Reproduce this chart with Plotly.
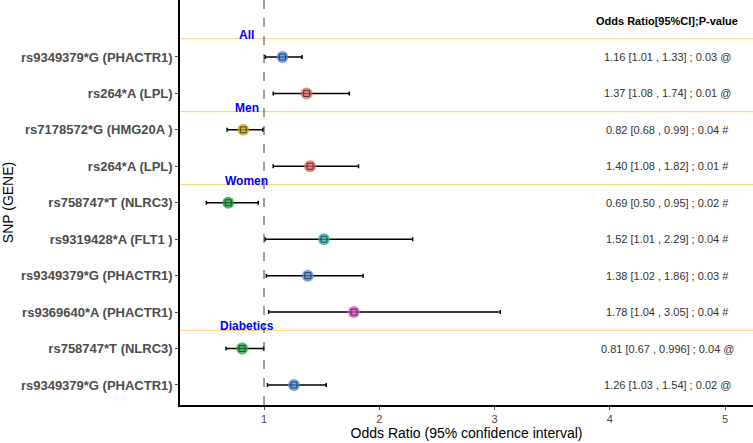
import plotly.graph_objects as go

snps = ["rs9349379*G (PHACTR1)", "rs264*A (LPL)", "rs7178572*G (HMG20A )", "rs264*A (LPL)",
        "rs758747*T (NLRC3)", "rs9319428*A (FLT1 )", "rs9349379*G (PHACTR1)", "rs9369640*A (PHACTR1)",
        "rs758747*T (NLRC3)", "rs9349379*G (PHACTR1)"]
odds = [1.16, 1.37, 0.82, 1.40, 0.69, 1.52, 1.38, 1.78, 0.81, 1.26]
lower = [1.01, 1.08, 0.68, 1.08, 0.50, 1.01, 1.02, 1.04, 0.67, 1.03]
upper = [1.33, 1.74, 0.99, 1.82, 0.95, 2.29, 1.86, 3.05, 0.996, 1.54]
labels = ["1.16 [1.01 , 1.33] ; 0.03 @", "1.37 [1.08 , 1.74] ; 0.01 @", "0.82 [0.68 , 0.99] ; 0.04 #",
          "1.40 [1.08 , 1.82] ; 0.01 #", "0.69 [0.50 , 0.95] ; 0.02 #", "1.52 [1.01 , 2.29] ; 0.04 #",
          "1.38 [1.02 , 1.86] ; 0.03 #", "1.78 [1.04 , 3.05] ; 0.04 #", "0.81 [0.67 , 0.996] ; 0.04 @",
          "1.26 [1.03 , 1.54] ; 0.02 @"]
colors = ["#4a86e8", "#e8605a", "#c9a800", "#e8605a", "#17a03a", "#1fb3b0", "#4a86e8", "#e04ccc",
          "#17a03a", "#4a86e8"]
groups = ["All", "Men", "Women", "Diabetics"]
group_starts = [1, 3, 5, 9]

rows = list(range(1, len(snps) + 1))

fig = go.Figure()
# group separator lines
for g, s in zip(groups, group_starts):
    fig.add_shape(type="line", xref="paper", x0=0, x1=1, y0=s - 0.5, y1=s - 0.5,
                  line=dict(color="#ffd58a", width=1.2), layer="below")
    fig.add_annotation(x=0.85, y=s - 0.5, text="<b>" + g + "</b>", showarrow=False,
                       font=dict(family="Liberation Sans, Arial", size=12, color="#0000ff"),
                       yanchor="bottom", yshift=-5)

fig.add_shape(type="line", x0=1, x1=1, yref="paper", y0=0, y1=1,
              line=dict(color="#808080", width=1.5, dash="dash"), layer="below")

fig.add_trace(go.Scatter(
    x=odds, y=rows, mode="markers",
    error_x=dict(type="data", symmetric=False,
                 array=[u - o for u, o in zip(upper, odds)],
                 arrayminus=[o - l for o, l in zip(odds, lower)],
                 color="black", thickness=1.5, width=2),
    marker=dict(color=colors, size=12, opacity=0.75, line=dict(width=0)),
    showlegend=False, hoverinfo="skip"))
fig.add_trace(go.Scatter(
    x=odds, y=rows, mode="markers",
    marker=dict(symbol="square-open", size=6, color="#3a3a3a", line=dict(width=1)),
    showlegend=False, hoverinfo="skip"))

fig.add_annotation(x=4.5, y=0, text="<b>Odds Ratio[95%CI];P-value</b>", showarrow=False,
                   font=dict(family="Liberation Sans, Arial", size=11, color="black"))
for r, t in zip(rows, labels):
    fig.add_annotation(x=4.5, y=r, text=t, showarrow=False,
                       font=dict(family="Liberation Sans, Arial", size=11, color="#333333"))

fig.update_layout(
    width=753, height=443,
    margin=dict(l=180, r=0, t=0, b=38),
    plot_bgcolor="white", paper_bgcolor="white",
    font=dict(family="Liberation Sans, Arial"),
    xaxis=dict(range=[0.271, 5.243], tickvals=[1, 2, 3, 4, 5], ticktext=["1", "2", "3", "4", "5"],
               showgrid=False, zeroline=False, showline=True, linecolor="black", linewidth=1.5,
               ticks="outside", ticklen=3, tickcolor="#4d4d4d",
               tickfont=dict(size=11, color="#4d4d4d"),
               title=dict(text="Odds Ratio (95% confidence interval)", font=dict(size=14, color="black"),
                          standoff=3)),
    yaxis=dict(range=[10.55, -0.564], tickvals=rows, ticktext=["<b>" + s + "</b>" for s in snps],
               showgrid=False, zeroline=False, showline=True, linecolor="black", linewidth=1.5,
               ticks="outside", ticklen=3, tickcolor="#4d4d4d",
               tickfont=dict(size=13, color="#4d4d4d"),
               title=dict(text="SNP (GENE)", font=dict(size=14, color="black"), standoff=6)),
)

fig.write_html("out.html", config={"displayModeBar": False},
               post_script="document.body.style.margin='0';document.body.style.overflow='hidden';")
